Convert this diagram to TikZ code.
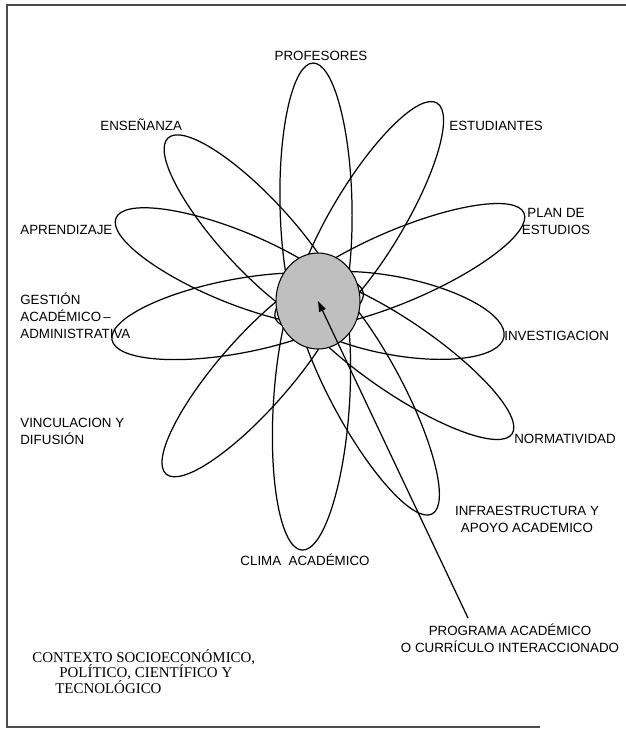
\documentclass[tikz,border=0pt]{standalone}
\usepackage{fontspec}
\setmainfont{Liberation Sans}
\newfontfamily\romana{Liberation Serif}
\usetikzlibrary{shapes.geometric,arrows.meta}

\begin{document}
\begin{tikzpicture}[x=0.02cm,y=0.02cm,
  font=\fontsize{7.6}{9.5}\selectfont,
  petalo/.style={draw,line width=0.7pt},
  rotulo/.style={inner sep=0pt,align=left},
  nucleo/.style={draw,ellipse,fill=black!25,line width=0.6pt,inner sep=0pt,
    minimum width=1.68cm,minimum height=1.92cm},
  flecha/.style={-{Triangle[length=6pt,width=4pt]},line width=0.7pt},
  marco/.style={draw=black!70,line width=0.9pt}]
\useasboundingbox (0,0) rectangle (626,-731);
\draw[marco] (626,-5) -- (7,-5) -- (7,-727) -- (540,-727);
% petals: centre x / centre y / angle / half length / half width
\foreach \mx/\my/\r/\a/\b in {
    316/205/91.2/142/36,          % profesores
    367.7/218.3/59.0/134.5/36,    % estudiantes
    399.8/266/23.1/135/36,        % plan de estudios
    392.3/315.4/-10.95/113.7/39,  % investigacion
    399.3/356.8/-34.4/136.6/36,   % normatividad
    366.1/390.7/-61.8/139.8/36,   % infraestructura
    311.5/402.6/-93.7/147.8/38,   % clima
    254.6/373.2/-131.3/134.2/36,  % vinculacion
    237.6/316.2/-169.3/127.8/37,  % gestion
    234.6/266.7/157.7/128.2/36,   % aprendizaje
    255.9/233.5/132.6/129.8/36}{  % ensenanza
  \draw[petalo,rotate around={\r:(\mx,-\my)}] (\mx,-\my) ellipse [x radius=\a,y radius=\b];
}
\node[nucleo] (nucleo) at (318,-301) {};
% labels
\node[rotulo,anchor=base] (profesores) at (321,-60) {PROFESORES};
\node[rotulo,anchor=base west] (estudiantes) at (449,-130) {ESTUDIANTES};
\node[rotulo,anchor=base west] (ensenanza) at (100,-130) {ENSEÑANZA};
\node[rotulo,anchor=base west] (aprendizaje) at (20,-234) {APRENDIZAJE};
\node[rotulo,anchor=base,align=center] (plan) at (556,-234) {PLAN DE\\ESTUDIOS};
\node[rotulo,anchor=base west] (gestion) at (20,-338) {GESTIÓN\\ACADÉMICO\,–\\ADMINISTRATIVA};
\node[rotulo,anchor=base west] (investigacion) at (504,-340) {INVESTIGACION};
\node[rotulo,anchor=base west] (normatividad) at (514,-443) {NORMATIVIDAD};
\node[rotulo,anchor=base west] (vinculacion) at (20,-444) {VINCULACION Y\\DIFUSIÓN};
\node[rotulo,anchor=base,align=center] (infraestructura) at (527,-532) {INFRAESTRUCTURA Y\\APOYO ACADEMICO};
\node[rotulo,anchor=base] (clima) at (305,-565) {CLIMA\ \ ACADÉMICO};
\node[rotulo,anchor=base,align=center] (programa) at (510,-652) {PROGRAMA ACADÉMICO\\O CURRÍCULO INTERACCIONADO};
\node[rotulo,anchor=base west,font=\romana\fontsize{8.5}{8.8}\selectfont] (contexto) at (32,-693)
  {CONTEXTO SOCIOECONÓMICO,\\\hspace*{0.54cm}POLÍTICO, CIENTÍFICO Y\\\hspace*{0.46cm}TECNOLÓGICO};
% arrow from the programme to the core
\coordinate (inicio) at (468,-618);
\draw[flecha] (inicio) -- (nucleo.center);
\end{tikzpicture}
\end{document}
